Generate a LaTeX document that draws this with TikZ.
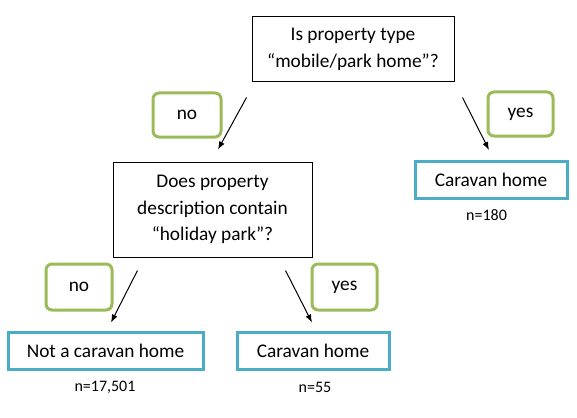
\documentclass[tikz,border=0pt]{standalone}
\usepackage{fontspec}
\setmainfont{Carlito}
\usepackage{tikz}
\usetikzlibrary{calc,positioning,arrows.meta}
\usepackage{xcolor}
\definecolor{mygreen}{RGB}{155,187,89}
\definecolor{myblue}{RGB}{75,172,198}

\tikzset{
  question/.style={draw, line width=0.75pt, align=center, inner sep=0pt, font=\fontsize{14.5}{20}\selectfont},
  result/.style={draw=myblue, line width=2.25pt, inner sep=0pt, minimum width=114pt, minimum height=27.75pt, font=\fontsize{14.5}{20}\selectfont},
  answer/.style={draw=mygreen, line width=2.25pt, rounded corners=4.5pt, inner sep=0pt, minimum width=49.5pt, minimum height=33pt, font=\fontsize{14.5}{20}\selectfont},
  count/.style={font=\fontsize{12}{14}\selectfont},
  arr/.style={-{Latex[length=6pt,width=4.5pt]}, line width=0.75pt}
}

\begin{document}
\begin{tikzpicture}[x=0.75pt,y=-0.75pt]
  \useasboundingbox (0,0) rectangle (577,417);

  % Questions
  \node[question, minimum width=151.5pt, minimum height=48.75pt] (q1) at (353,49.5) {Is property type\\“mobile/park home”?};
  \node[question, minimum width=149.25pt, minimum height=71.25pt] (q2) at (212.5,209.5) {Does property\\description contain\\“holiday park”?};

  % Results
  \node[result] (c1) at (491,180) {Caravan home};
  \node[result, minimum width=146.25pt] (r1) at (105.5,350.5) {Not a caravan home};
  \node[result] (r2) at (313,350.5) {Caravan home};

  \node[count] (n1) at (486.5,215) {n=180};
  \node[count] (n2) at (105,387) {n=17,501};
  \node[count] (n3) at (315,387) {n=55};

  % Answers
  \node[answer, minimum width=51pt] (g1) at (187,115) {no};
  \node[answer, minimum width=48.75pt] (g2) at (520.5,114) {yes};
  \node[answer, minimum height=34.5pt] (g3) at (79,287) {no};
  \node[answer, minimum width=48.75pt, minimum height=34.5pt] (g4) at (344.5,287) {yes};

  \draw[arr] ([shift={(-5,15)}]q1.south west) -- ([shift={(5.5,-12)}]q2.north);
  \draw[arr] ([shift={(8,15)}]q1.south east) -- ([shift={(-2,-10)}]c1.north);
  \draw[arr] ([shift={(25,13)}]q2.south west) -- ([shift={(5.5,-8)}]r1.north);
  \draw[arr] ([shift={(-27,13)}]q2.south east) -- ([shift={(-1,-8)}]r2.north);
\end{tikzpicture}
\end{document}
